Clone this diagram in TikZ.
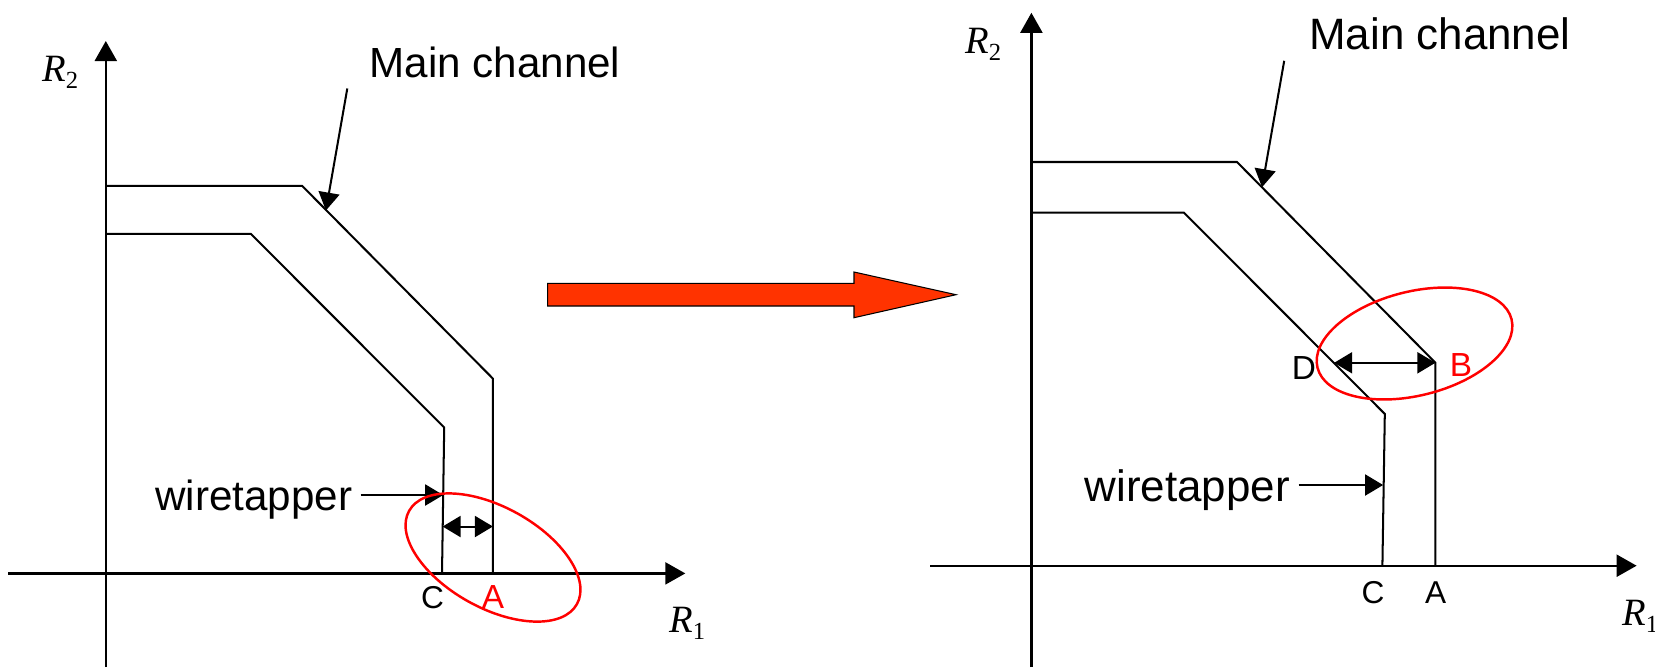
\documentclass[tikz,border=0pt]{standalone}
\usepackage{fontspec}
\setmainfont{Liberation Sans}
\newfontfamily\timesfont{Liberation Serif}
\usetikzlibrary{arrows.meta}
\definecolor{arrred}{RGB}{255,51,0}
\newcommand{\Rlab}[1]{{\fontsize{22}{22}\selectfont\timesfont\itshape R}\raisebox{-4.5pt}{\fontsize{14}{14}\selectfont\timesfont #1}}
\begin{document}
\begin{tikzpicture}[x=0.02cm,y=-0.02cm,
  ln/.style={line width=1.15pt, black},
  ax/.style={line width=1.25pt, -{Triangle[length=0.4cm,width=0.44cm]}},
  pt/.style={line width=1.15pt, -{Triangle[length=0.36cm,width=0.42cm]}},
  dbl/.style={line width=1.15pt, {Triangle[length=0.36cm,width=0.42cm]}-{Triangle[length=0.36cm,width=0.42cm]}},
  big/.style={inner sep=0pt, font=\fontsize{24}{24}\selectfont},
  bigr/.style={inner sep=0pt, font=\fontsize{25}{25}\selectfont},
  pl/.style={inner sep=0pt, font=\fontsize{19}{19}\selectfont},
  oval/.style={red, line width=1.4pt}
]
\useasboundingbox (0,0) rectangle (1655,667);

% ---------------- left panel ----------------
\coordinate (Ly0) at (105.8,667);
\coordinate (Ly1) at (105.8,41);
\coordinate (Lx0) at (8,573.4);
\coordinate (Lx1) at (685.3,573.4);
\draw[ax] (Ly0) -- (Ly1);
\draw[ax] (Lx0) -- (Lx1);

\coordinate (Lo1) at (105.8,185.9);
\coordinate (Lo2) at (302.2,185.9);
\coordinate (Lo3) at (492.9,378.6);
\coordinate (Lo4) at (492.9,573.4);
\draw[ln] (Lo1) -- (Lo2) -- (Lo3) -- (Lo4);

\coordinate (Li1) at (105.8,233.9);
\coordinate (Li2) at (250.9,233.9);
\coordinate (Li3) at (444.2,427.5);
\coordinate (Li4) at (442,573.4);
\draw[ln] (Li1) -- (Li2) -- (Li3) -- (Li4);

\node[inner sep=0pt, anchor=base west] (LR2) at (42,81) {\Rlab{2}};
\node[inner sep=0pt, anchor=base west] (LR1) at (669,632) {\Rlab{1}};

\node[big] (Lmain) at (495,62) {Main channel};
\coordinate (Lmt) at (347.3,88.5);
\coordinate (Lmh) at (325.9,210.5);
\draw[pt] (Lmt) -- (Lmh);

\node[big, anchor=base west] (Lwire) at (155,510) {wiretapper};
\coordinate (Lwt) at (360.7,495);
\coordinate (Lwh) at (443.2,495);
\draw[pt] (Lwt) -- (Lwh);

\coordinate (Lda) at (442.6,526.5);
\coordinate (Ldb) at (492.9,526.5);
\draw[dbl] (Lda) -- (Ldb);

\node[inner sep=0pt, anchor=base, font=\fontsize{18}{18}\selectfont] (LC) at (432.5,608) {C};
\node[inner sep=0pt, anchor=base, font=\fontsize{19}{19}\selectfont, text=red] (LA) at (493,608.3) {A};

\coordinate (Le) at (493,557.5);
\draw[oval, rotate around={-29:(Le)}] (Le) ellipse [x radius=96, y radius=50.4];

% ---------------- big arrow ----------------
\filldraw[fill=arrred, draw=black, line width=0.6pt]
  (547.7,283.3) -- (854,283.3) -- (854,272) -- (956,294.7) -- (854,317.7) -- (854,306) -- (547.7,306) -- cycle;

% ---------------- right panel ----------------
\coordinate (Ry0) at (1031.4,667);
\coordinate (Ry1) at (1031.4,12.8);
\coordinate (Rx0) at (930,565.7);
\coordinate (Rx1) at (1636.6,565.7);
\draw[ax] (Ry0) -- (Ry1);
\draw[ax] (Rx0) -- (Rx1);

\coordinate (Ro1) at (1031.4,162);
\coordinate (Ro2) at (1237,162);
\coordinate (Ro3) at (1435.4,362.8);
\coordinate (Ro4) at (1435.4,565.7);
\draw[ln] (Ro1) -- (Ro2) -- (Ro3) -- (Ro4);

\coordinate (Ri1) at (1031.4,212.7);
\coordinate (Ri2) at (1184,212.7);
\coordinate (Ri3) at (1384.8,413.9);
\coordinate (Ri4) at (1382.4,565.7);
\draw[ln] (Ri1) -- (Ri2) -- (Ri3) -- (Ri4);

\node[inner sep=0pt, anchor=base west] (RR2) at (965,53) {\Rlab{2}};
\node[inner sep=0pt, anchor=base west] (RR1) at (1622,625) {\Rlab{1}};

\node[bigr] (Rmain) at (1440,34) {Main channel};
\coordinate (Rmt) at (1284.2,60.8);
\coordinate (Rmh) at (1262,187.2);
\draw[pt] (Rmt) -- (Rmh);

\node[bigr, anchor=base west] (Rwire) at (1084.4,501) {wiretapper};
\coordinate (Rwt) at (1298.7,485);
\coordinate (Rwh) at (1383.1,485);
\draw[pt] (Rwt) -- (Rwh);

\coordinate (Rda) at (1334.1,362.8);
\draw[dbl] (Rda) -- (Ro3);

\node[pl, anchor=base, font=\fontsize{18}{18}\selectfont] (RC) at (1373,603) {C};
\node[pl, anchor=base, font=\fontsize{18}{18}\selectfont] (RA) at (1435.6,603) {A};
\node[pl, anchor=base] (RD) at (1304,379) {D};
\node[pl, anchor=base, text=red] (RB) at (1461,376) {B};

\coordinate (Re) at (1414.5,343.5);
\draw[oval, rotate around={14:(Re)}] (Re) ellipse [x radius=100, y radius=52];
\end{tikzpicture}
\end{document}
